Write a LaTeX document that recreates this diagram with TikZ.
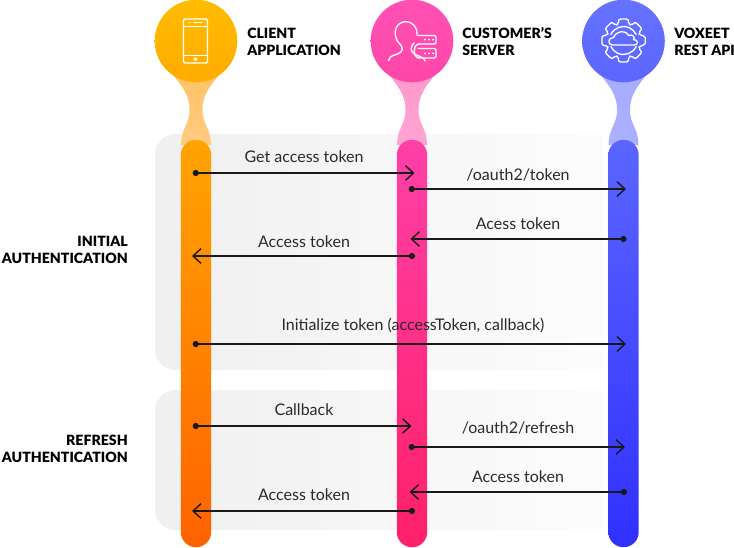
\documentclass[tikz,border=0pt]{standalone}
\usepackage{fontspec}
\setmainfont{Lato}
\newfontfamily\heavyfont{Lato Black}
\usetikzlibrary{arrows.meta}
\definecolor{txt}{HTML}{2A2A2A}
\tikzset{
  x=0.75pt,y=-0.75pt,
  msg/.style={draw=black!90,line width=1.05pt,{Circle[length=4.6pt,width=4.6pt]}-{Straight Barb[length=6pt,width=11pt,line width=1.05pt]}},
  msgtext/.style={text=txt,font=\fontsize{12pt}{14pt}\selectfont,inner sep=0pt,anchor=center},
  headtext/.style={text=black,font=\fontsize{10.6pt}{12.75pt}\selectfont\heavyfont,inner sep=0pt,align=left,anchor=west},
  sidetext/.style={text=black,font=\fontsize{10.6pt}{12.75pt}\selectfont\heavyfont,inner sep=0pt,align=right,anchor=east},
  icon/.style={draw=white,line width=1pt,line join=round,line cap=round,fill=none},
}
\newcommand{\lifeline}[7]{%
  \definecolor{ca}{HTML}{#2}\definecolor{cb}{HTML}{#3}\definecolor{cc}{HTML}{#4}%
  \definecolor{cd}{HTML}{#5}\definecolor{ce}{HTML}{#6}\definecolor{cf}{HTML}{#7}%
  \path[top color=cc,bottom color=cd] (#1-30,66) .. controls (#1-14,86) and (#1-6.5,94) .. (#1-6.5,110)
     .. controls (#1-6.5,125) and (#1-15,128) .. (#1-15,145) -- (#1+15,145)
     .. controls (#1+15,128) and (#1+6.5,125) .. (#1+6.5,110)
     .. controls (#1+6.5,94) and (#1+14,86) .. (#1+30,66) -- cycle;
  \path[top color=ca,bottom color=cb] (#1,41) circle[radius=41.3];
  \path[top color=ce,bottom color=cf] (#1-15.2,155) arc[start angle=180,end angle=360,radius=15.2] -- (#1+15.2,532) arc[start angle=0,end angle=180,radius=15.2] -- cycle;
}
\begin{document}
\begin{tikzpicture}
\useasboundingbox (0,0) rectangle (734,547);
% panels
\path[left color=black!6,right color=black!1] (603,134) [rounded corners=15pt] -- (155,134) -- (155,370) [sharp corners] -- (603,370) -- cycle;
\path[left color=black!6,right color=black!1] (603,390) [rounded corners=15pt] -- (155,390) -- (155,530) [sharp corners] -- (603,530) -- cycle;
% lifelines
\lifeline{196}{FFBC00}{FFAC00}{FFC266}{FFCB80}{FFA400}{FF6200}
\lifeline{412}{FF50B4}{FF46A8}{FF97CC}{FFA4D2}{FF40A8}{FF2068}
\lifeline{623.5}{6672FF}{5A66FF}{A6ACFF}{ABB0FF}{5A66FF}{3030FF}
% phone icon
\draw[icon,rounded corners=1pt] (183.5,19) rectangle (207.5,63);
\draw[icon,line width=.7pt] (184,26.5) -- (207,26.5) (184,55.5) -- (207,55.5);
\draw[icon,line width=.9pt] (194,22.7) -- (202,22.7) (189.5,22.7) -- (190,22.7);
\draw[icon,fill=white] (195.5,59.2) circle[radius=1.3];
% person and server icon
\draw[icon] (388.5,60.5) .. controls (390,54) and (396,56) .. (401,52) .. controls (404,48) and (401,45) .. (398,42)
  .. controls (392,33) and (396,21.7) .. (405.7,21.7) .. controls (413,21.7) and (418,28) .. (417,35);
\draw[icon] (425,61) .. controls (424,56) and (418,57) .. (413,53) .. controls (410,50) and (411,46) .. (414,43);
\draw[icon,rounded corners=1pt] (418,35.5) -- (436,35.5) -- (436,44) -- (419,44) .. controls (413,45) and (413,57) .. (419,58) -- (436,58) -- (436,48.5) -- (418,48.5);
\foreach \q in {425,429,433}{\fill[white] (\q,39.7) circle[radius=1] (\q,53.3) circle[radius=1];}
% gear icon
\begin{scope}[shift={(623.5,40.5)}]
\draw[icon,rounded corners=1.5pt] (0:22)
  \foreach \t in {0,45,...,315}{
    -- ({\t+13}:22) -- ({\t+17}:17) -- ({\t+28}:17) -- ({\t+32}:22)
  } -- cycle;
\draw[icon] (25:14) arc[start angle=25,end angle=155,radius=14];
\draw[icon] (205:14) arc[start angle=205,end angle=335,radius=14];
\draw[icon] (-11,4.5) .. controls (-16,4.5) and (-16,-3) .. (-10,-3) .. controls (-7,-10) and (2,-11) .. (5,-5)
  .. controls (9,-7) and (12,-3) .. (10,-1) .. controls (15,-1) and (15,4.5) .. (11,4.5) -- cycle;
\end{scope}
% headers
\node[headtext] (h1) at (247,41.5) {CLIENT\\APPLICATION};
\node[headtext] (h2) at (462,41.5) {CUSTOMER’S\\SERVER};
\node[headtext] (h3) at (674,41.5) {VOXEET\\REST API};
\node[sidetext] (s1) at (128,250) {INITIAL\\AUTHENTICATION};
\node[sidetext] (s2) at (128,449) {REFRESH\\AUTHENTICATION};
% connector ends
\coordinate (a1) at (192.7,173); \coordinate (b1) at (414.5,173);
\coordinate (a2) at (408.7,189); \coordinate (b2) at (626,189);
\coordinate (a3) at (626.5,239); \coordinate (b3) at (410.5,239);
\coordinate (a4) at (415,256);   \coordinate (b4) at (192,256);
\coordinate (a5) at (192.7,344); \coordinate (b5) at (626,344);
\coordinate (a6) at (192.7,426); \coordinate (b6) at (411.5,426);
\coordinate (a7) at (408.7,447); \coordinate (b7) at (625,447);
\coordinate (a8) at (627,492);   \coordinate (b8) at (409.5,492);
\coordinate (a9) at (415,511);   \coordinate (b9) at (192,511);
\foreach \n in {1,...,9}{\draw[msg] (a\n) -- (b\n);}
% labels
\node[msgtext] (t1) at (304,156.5) {Get access token};
\node[msgtext] (t2) at (518,174.5) {/oauth2/token};
\node[msgtext] (t3) at (518,223.5) {Acess token};
\node[msgtext] (t4) at (304,241.5) {Access token};
\node[msgtext] (t5) at (413,325.5) {Initialize token (accessToken, callback)};
\node[msgtext] (t6) at (304,409.5) {Callback};
\node[msgtext] (t7) at (518,427.5) {/oauth2/refresh};
\node[msgtext] (t8) at (518,476.5) {Access token};
\node[msgtext] (t9) at (304,494.5) {Access token};
\end{tikzpicture}
\end{document}
